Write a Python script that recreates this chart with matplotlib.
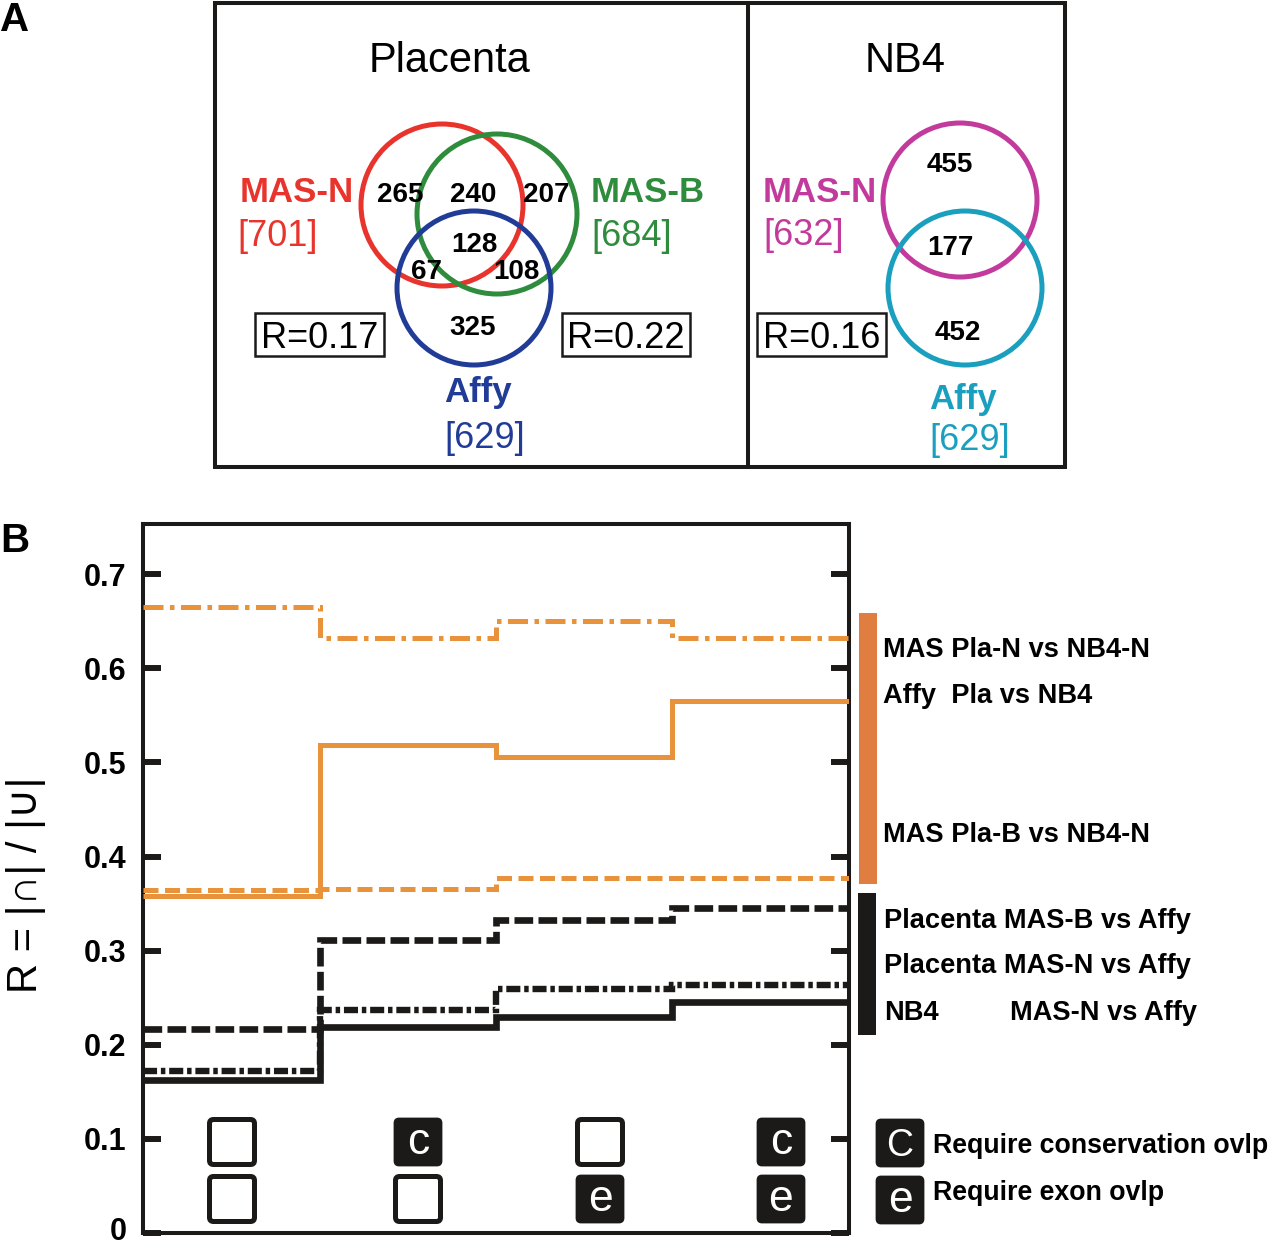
import matplotlib
matplotlib.use("Agg")
import matplotlib.pyplot as plt
import matplotlib.transforms as mtransforms
import numpy as np
from matplotlib.patches import Circle, Rectangle, FancyBboxPatch

plt.rcParams["font.family"] = ["Liberation Sans", "DejaVu Sans"]

# ---- panel A: Venn counts ----
PLA_SETS = ["MAS-N", "MAS-B", "Affy"]
PLA_TOTALS = [701, 684, 629]
# only N, N&B, only B, all three, N&Affy, B&Affy, only Affy
PLA_REGIONS = [265, 240, 207, 128, 67, 108, 325]
PLA_R = [0.17, 0.22]          # MAS-N vs Affy, MAS-B vs Affy

NB4_SETS = ["MAS-N", "Affy"]
NB4_TOTALS = [632, 629]
NB4_REGIONS = [455, 177, 452]  # only N, both, only Affy
NB4_R = [0.16]

# ---- panel B: R per filter setting ----
COND_C = [False, True, False, True]   # require conservation ovlp
COND_E = [False, False, True, True]   # require exon ovlp

MAS_PLAN_NB4N = [0.665, 0.632, 0.650, 0.632]
AFFY_PLA_NB4 = [0.358, 0.518, 0.506, 0.565]
MAS_PLAB_NB4N = [0.364, 0.366, 0.377, 0.377]
PLA_MASB_AFFY = [0.217, 0.311, 0.333, 0.345]
PLA_MASN_AFFY = [0.172, 0.237, 0.259, 0.264]
NB4_MASN_AFFY = [0.163, 0.219, 0.229, 0.245]

ORANGE = "#e8923c"
ORANGE_BAR = "#e07d40"
BLACK = "#1b1a18"
RED, GREEN, BLUE = "#e8342c", "#2e8c3c", "#213c96"
MAGENTA, CYAN = "#c23a9c", "#1b9fbf"

W, H = 1280, 1248
fig = plt.figure(figsize=(W / 100, H / 100), dpi=100)

# chart axes
ax = fig.add_axes([143 / W, (H - 1233) / H, (849 - 143) / W, (1233 - 524) / H])
edges = np.arange(len(COND_C) + 1)
series = [
    (MAS_PLAN_NB4N, ORANGE, 3.6, (0, (4, 1.3, 0.9, 1.3))),
    (AFFY_PLA_NB4, ORANGE, 3.6, "-"),
    (MAS_PLAB_NB4N, ORANGE, 3.6, (0, (3, 1.3))),
    (PLA_MASB_AFFY, BLACK, 4.8, (0, (2.8, 0.8))),
    (PLA_MASN_AFFY, BLACK, 4.6, (0, (2.2, 0.6, 0.7, 0.6))),
    (NB4_MASN_AFFY, BLACK, 4.8, "-"),
]
for vals, col, lw, ls in series:
    ax.stairs(vals, edges, baseline=None, color=col, lw=lw, ls=ls, zorder=3)

ax.set_xlim(0, 4)
ax.set_ylim(0, 0.7533)
ax.set_yticks(np.arange(0, 0.71, 0.1))
ax.set_yticklabels(["0", "0.1", "0.2", "0.3", "0.4", "0.5", "0.6", "0.7"],
                   fontsize=22, fontweight="bold")
ax.tick_params(axis="y", direction="in", length=13, width=4.3, right=True,
               labelright=False, pad=12, color=BLACK)
ax.tick_params(axis="x", bottom=False, labelbottom=False)
for s in ax.spines.values():
    s.set_linewidth(2.9)
    s.set_color(BLACK)
# nudge the "0" label up so it stays inside the figure
lab0 = ax.get_yticklabels()[0]
lab0.set_transform(lab0.get_transform() +
                   mtransforms.ScaledTranslation(0, 5 / 100, fig.dpi_scale_trans))

# overlay in pixel coordinates for panel A and legends
ov = fig.add_axes([0, 0, 1, 1])
ov.set_xlim(0, W)
ov.set_ylim(H, 0)
ov.axis("off")


def put(x, yc, s, size, ha="center", xh=0.358, **kw):
    # place text so that its cap (or x) height is centred on yc
    ov.text(x, yc + xh * size * 100 / 72, s, fontsize=size, ha=ha,
            va="baseline", **kw)


ov.text(26, 885, "R = |∩| / |∪|", fontsize=30, rotation=90,
        ha="center", va="center")

put(0, 17, "A", 29, ha="left", fontweight="bold")
put(0, 538, "B", 29, ha="left", fontweight="bold")

# frame of panel A
ov.add_patch(Rectangle((215, 3), 850, 464, fill=False, lw=2.9, ec=BLACK))
ov.plot([748, 748], [3, 467], color=BLACK, lw=2.9)
put(450, 57, "Placenta", 30)
put(905, 57, "NB4", 30)

# placenta venn
pla_circ = [(442, 205, 81), (497, 214, 80), (474, 288, 77)]
pla_col = [RED, GREEN, BLUE]
for (cx, cy, r), c in zip(pla_circ, pla_col):
    ov.add_patch(Circle((cx, cy), r, fill=False, lw=3.6, ec=c))
pla_pos = [(400, 192), (473, 192), (546, 192), (474, 242), (427, 269),
           (516, 269), (473, 325)]
for (x, y), v in zip(pla_pos, PLA_REGIONS):
    put(x, y, str(v), 20, fontweight="bold")
put(354, 190, PLA_SETS[0], 25, ha="right", fontweight="bold", color=RED)
put(237, 233, f"[{PLA_TOTALS[0]}]", 26, ha="left", color=RED)
put(591, 190, PLA_SETS[1], 25, ha="left", fontweight="bold", color=GREEN)
put(591, 233, f"[{PLA_TOTALS[1]}]", 26, ha="left", color=GREEN)
put(478, 390, PLA_SETS[2], 25, fontweight="bold", color=BLUE)
put(485, 435, f"[{PLA_TOTALS[2]}]", 26, color=BLUE)

# nb4 venn
for (cx, cy, r), c in zip([(960, 200, 77), (965, 288, 77)], [MAGENTA, CYAN]):
    ov.add_patch(Circle((cx, cy), r, fill=False, lw=3.6, ec=c))
for (x, y), v in zip([(950, 162), (950, 245), (958, 330)], NB4_REGIONS):
    put(x, y, str(v), 20, fontweight="bold")
put(763, 190, NB4_SETS[0], 25, ha="left", fontweight="bold", color=MAGENTA)
put(763, 232, f"[{NB4_TOTALS[0]}]", 26, ha="left", color=MAGENTA)
put(963, 397, NB4_SETS[1], 25, fontweight="bold", color=CYAN)
put(970, 437, f"[{NB4_TOTALS[1]}]", 26, color=CYAN)

# R boxes
for (x0, x1), rv in zip([(255, 384), (562, 690), (757, 886)], PLA_R + NB4_R):
    ov.add_patch(Rectangle((x0, 313), x1 - x0, 43, fill=False, lw=1.8, ec=BLACK))
    put((x0 + x1) / 2, 335, f"R={rv:.2f}", 26)

# group bars and series labels
ov.add_patch(Rectangle((859, 613), 18, 271, color=ORANGE_BAR, lw=0))
ov.add_patch(Rectangle((858, 893), 18, 142, color=BLACK, lw=0))
leg = [(883, 647, "MAS Pla-N vs NB4-N"), (883, 693, "Affy  Pla vs NB4"),
       (883, 832, "MAS Pla-B vs NB4-N"), (884, 918, "Placenta MAS-B vs Affy"),
       (884, 963, "Placenta MAS-N vs Affy"), (884, 1010, "NB4"),
       (1010, 1010, "MAS-N vs Affy")]
for x, y, s in leg:
    put(x, y, s, 19.6, ha="left", fontweight="bold")


def cond_box(x, y, letter, size=50, fs=32):
    if letter:
        ov.add_patch(FancyBboxPatch((x + 2, y + 2), size - 4, size - 4,
                                    boxstyle="round,pad=0,rounding_size=4",
                                    fc=BLACK, ec=BLACK, lw=2))
        xh = 0.358 if letter.isupper() else 0.26
        put(x + size / 2, y + size / 2, letter, fs, color="white", xh=xh)
    else:
        ov.add_patch(FancyBboxPatch((x + 2.5, y + 2.5), size - 5, size - 5,
                                    boxstyle="round,pad=0,rounding_size=4",
                                    fc="white", ec=BLACK, lw=3.6))


box_x = [207, 393, 575, 756]
for bx, c, e in zip(box_x, COND_C, COND_E):
    cond_box(bx, 1117, "c" if c else "")
    cond_box(bx, 1174, "e" if e else "")
cond_box(875, 1118, "C", fs=27)
cond_box(875, 1175, "e")
put(933, 1143, "Require conservation ovlp", 19.3, ha="left", fontweight="bold")
put(933, 1190, "Require exon ovlp", 19.3, ha="left", fontweight="bold")

fig.savefig("out.png", dpi=100)
